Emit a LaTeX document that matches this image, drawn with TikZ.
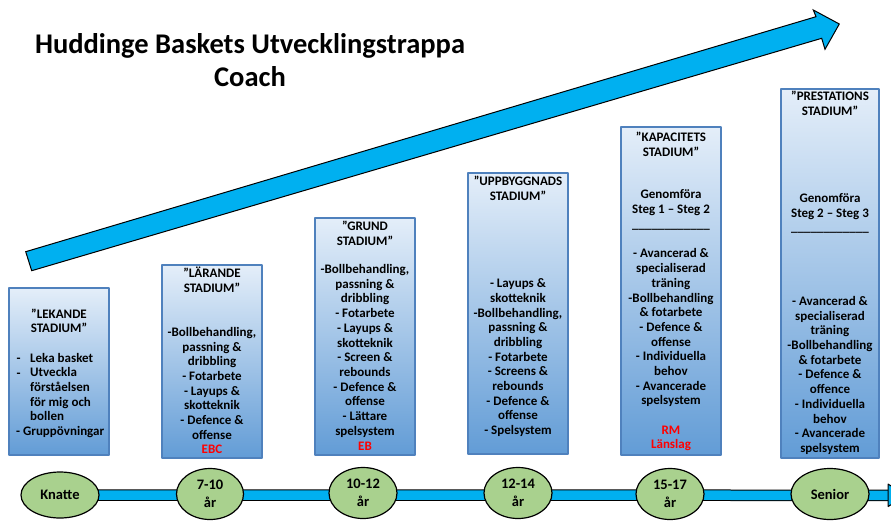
\documentclass[tikz,border=0pt]{standalone}
\usepackage{fontspec}
\setmainfont{Carlito}
\usepackage{tikz}
\usetikzlibrary{shapes.geometric,backgrounds}

\definecolor{arrowblue}{RGB}{0,176,240}
\definecolor{boxtop}{RGB}{228,238,249}
\definecolor{boxbottom}{RGB}{98,156,214}
\definecolor{boxline}{RGB}{79,129,189}
\definecolor{agegreen}{RGB}{169,209,142}
\definecolor{textred}{RGB}{255,0,0}

\tikzset{
  stagebox/.style={rectangle, draw=boxline, line width=1.2pt, top color=boxtop, bottom color=boxbottom, inner sep=0pt},
  agebubble/.style={ellipse, draw=black, line width=1.2pt, fill=agegreen, inner sep=0pt, align=center, font=\fontsize{14.5}{18}\selectfont\bfseries},
  boxtxt/.style={align=center, inner sep=0pt, font=\fontsize{13}{14.7}\selectfont\bfseries},
  redtxt/.style={boxtxt, text=textred},
  timeline/.style={line width=1pt, draw=black, double=arrowblue, double distance=9.5pt}
}

\begin{document}
\begin{tikzpicture}[x=1pt, y=-1pt, line join=bevel]
\useasboundingbox (0,0) rectangle (891,522);

% title
\node[boxtxt, font=\fontsize{28.5}{33}\selectfont\bfseries] (title) at (250,60.5) {Huddinge Baskets Utvecklingstrappa\\Coach};

% big arrow
\draw[fill=arrowblue, line width=1pt, line join=miter] (25.7,251.7) -- (816,16.7) -- (813.3,10) -- (839.3,24) -- (825,49.3) -- (821.7,38.3) -- (31.7,270.7) -- cycle;

% stage boxes
\node[stagebox, minimum width=100pt, minimum height=167pt] (lekande) at (59,371.5) {};
\node[stagebox, minimum width=100pt, minimum height=193pt] (larande) at (212,361.5) {};
\node[stagebox, minimum width=100pt, minimum height=237pt] (grund) at (365,336.5) {};
\node[stagebox, minimum width=100pt, minimum height=281pt] (uppbygg) at (518,313.5) {};
\node[stagebox, minimum width=100pt, minimum height=328pt] (kapacitet) at (671,291) {};
\node[stagebox, minimum width=98pt, minimum height=369pt] (prestation) at (830,273.5) {};

% LEKANDE
\node[boxtxt] (lekhead) at (59,320.8) {”LEKANDE\\STADIUM”};
\node[boxtxt, anchor=base] (lekdasha) at (18.5,362.4) {-};
\node[boxtxt, anchor=base] (lekdashb) at (18.5,377.1) {-};
\node[boxtxt, align=left, anchor=west] (lekbody) at (30,386.9) {Leka basket\\Utveckla\\förståelsen\\för mig och\\bollen};
\node[boxtxt, anchor=west] (lekgrupp) at (16,431.7) {- Gruppövningar};

% LÄRANDE
\node[boxtxt] (larhead) at (212,280) {”LÄRANDE\\STADIUM”};
\node[boxtxt] (larbody) at (212,383.3) {-Bollbehandling,\\passning \&\\dribbling\\- Fotarbete\\- Layups \&\\skotteknik\\- Defence \&\\offense};
\node[redtxt] (larred) at (212,449.3) {EBC};

% GRUND
\node[boxtxt] (grhead) at (365,233.5) {”GRUND\\STADIUM”};
\node[boxtxt] (grbody) at (365,350.9) {-Bollbehandling,\\passning \&\\dribbling\\- Fotarbete\\- Layups \&\\skotteknik\\- Screen \&\\rebounds\\- Defence \&\\offense\\- Lättare\\spelsystem};
\node[redtxt] (grred) at (365,446.7) {EB};

% UPPBYGGNADS
\node[boxtxt] (upphead) at (518,188) {”UPPBYGGNADS\\STADIUM”};
\node[boxtxt] (uppbody) at (518,357.7) {- Layups \&\\skotteknik\\-Bollbehandling,\\passning \&\\dribbling\\- Fotarbete\\- Screens \&\\rebounds\\- Defence \&\\offense\\- Spelsystem};

% KAPACITETS
\node[boxtxt] (kaphead) at (671,144.5) {”KAPACITETS\\STADIUM”};
\node[boxtxt] (kapsteg) at (671,202.5) {Genomföra\\Steg 1 – Steg 2};
\node[boxtxt, anchor=base] (kapline) at (671,228.5) {\_\_\_\_\_\_\_\_\_\_\_\_};
\node[boxtxt] (kapbody) at (671,327.9) {- Avancerad \&\\specialiserad\\träning\\-Bollbehandling\\\& fotarbete\\- Defence \&\\offense\\- Individuella\\behov\\- Avancerade\\spelsystem};
\node[redtxt] (kapred) at (671,438.4) {RM\\Länslag};

% PRESTATIONS
\node[boxtxt] (prehead) at (830,103.5) {”PRESTATIONS\\STADIUM”};
\node[boxtxt] (presteg) at (830,206.7) {Genomföra\\Steg 2 – Steg 3};
\node[boxtxt, anchor=base] (preline) at (830,231.5) {\_\_\_\_\_\_\_\_\_\_\_\_};
\node[boxtxt] (prebody) at (830,375.4) {- Avancerad \&\\specialiserad\\träning\\-Bollbehandling\\\& fotarbete\\- Defence \&\\offence\\- Individuella\\behov\\- Avancerade\\spelsystem};

% ages
\node[agebubble, minimum width=78pt, minimum height=46pt] (knatte) at (60,495) {Knatte};
\node[agebubble, minimum width=67pt, minimum height=51pt] (age7) at (210,494) {7-10\\år};
\node[agebubble, minimum width=68pt, minimum height=51pt] (age10) at (363,493) {10-12\\år};
\node[agebubble, minimum width=68pt, minimum height=51pt] (age12) at (518,493) {12-14\\år};
\node[agebubble, minimum width=68pt, minimum height=51pt] (age15) at (670,494) {15-17\\år};
\node[agebubble, minimum width=78pt, minimum height=51pt] (senior) at (830,494) {Senior};

% time line behind the ages
\coordinate (tlend) at (888,495.3);
\begin{scope}[on background layer]
\draw[timeline] (knatte.center) -- (tlend);
\end{scope}
\fill[arrowblue] (888,484) -- (891,485.9) -- (891,504.7) -- (888,506.6) -- cycle;
\draw[line width=1pt] (891,485.9) -- (888,484) -- (888,506.6) -- (891,504.7);

\end{tikzpicture}
\end{document}
